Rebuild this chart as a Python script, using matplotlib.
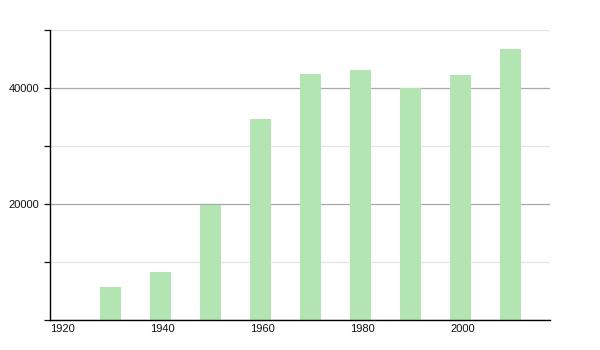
import matplotlib
matplotlib.use("Agg")
import matplotlib.pyplot as plt
from matplotlib.ticker import MultipleLocator, FuncFormatter

plt.rcParams["font.family"] = ["Liberation Sans", "DejaVu Sans"]

# population per census year
years = [1930, 1940, 1950, 1960, 1970, 1980, 1990, 2000, 2010]
population = [5700, 8300, 19850, 34650, 42400, 43100, 39950, 42250, 46650]

xticks = [1920, 1940, 1960, 1980, 2000]

fig = plt.figure(figsize=(6, 3.5), dpi=100)
ax = fig.add_axes([50/600, 30/350, 500/600, 290/350])

ax.bar(years, population, width=4.2, align="edge", color="#b3e5b2", zorder=2)

ax.set_xlim(1920, 2020)
ax.set_ylim(0, 50000)

ax.yaxis.set_major_locator(MultipleLocator(20000))
ax.yaxis.set_minor_locator(MultipleLocator(10000))
ax.yaxis.set_major_formatter(FuncFormatter(lambda v, p: "" if v == 0 else "%d" % v))
ax.grid(axis="y", which="major", color="#a8a8a8", linewidth=0.9, zorder=1)
ax.grid(axis="y", which="minor", color="#e4e4e4", linewidth=0.9, zorder=1)

ax.set_xticks(xticks)
ax.set_xticklabels([str(x) for x in xticks], ha="left")
ax.tick_params(axis="x", length=0, pad=3, labelsize=8, colors="#111111")
ax.tick_params(axis="y", which="both", length=4, width=0.9, labelsize=8, colors="#111111")
for lbl in ax.get_xticklabels():
    lbl.set_x(lbl.get_position()[0])

for side in ("top", "right"):
    ax.spines[side].set_visible(False)
for side in ("left", "bottom"):
    ax.spines[side].set_linewidth(1.0)
    ax.spines[side].set_color("black")

fig.savefig("out.png", dpi=100)
